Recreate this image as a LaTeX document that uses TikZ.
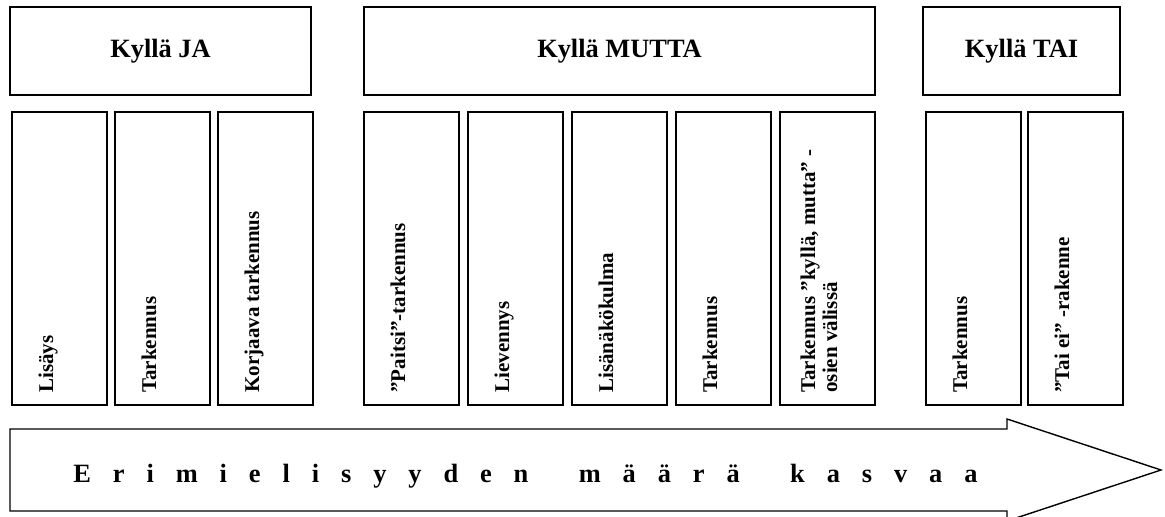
\documentclass[tikz,border=0pt]{standalone}
\usepackage{fontspec}
\setmainfont{Liberation Serif}
\newfontfamily\spacedfont{Liberation Serif}[LetterSpace=83]
\usetikzlibrary{positioning}

\newcommand{\wgap}{\hspace{0.83em}}

\begin{document}
\begin{tikzpicture}[x=0.5pt, y=-0.5pt,
      group/.style={draw, line width=0.9pt, minimum height=44pt, inner sep=0pt,
                    font=\bfseries\fontsize{13.2}{15}\selectfont},
      col/.style={draw, line width=0.7pt, minimum width=47.5pt, minimum height=146.5pt,
                  inner sep=0pt, outer sep=0pt},
      coltext/.style={rotate=90, anchor=base west, inner sep=0pt, align=left,
                      font=\bfseries\fontsize{10.5}{11}\selectfont},
      trend/.style={draw, line width=0.7pt},
  ]
    \useasboundingbox (0,0) rectangle (1165,517);

    % group headings
    \node[group, minimum width=150.5pt] (ja)    at (160.5,51)  {Kyllä JA};
    \node[group, minimum width=255.5pt] (mutta) at (619.5,51)  {Kyllä MUTTA};
    \node[group, minimum width=98.5pt]  (tai)   at (1021.5,51) {Kyllä TAI};

    % columns under Kyllä JA
    \node[col] (lisays) at (59.5,258.5) {};
    \node[col, right=4pt of lisays] (tark1) {};
    \node[col, right=4pt of tark1]  (korj)  {};

    % columns under Kyllä MUTTA
    \node[col] (paitsi) at (411.5,258.5) {};
    \node[col, right=4.5pt of paitsi] (liev)  {};
    \node[col, right=4.5pt of liev]   (lisn)  {};
    \node[col, right=4.5pt of lisn]   (tark2) {};
    \node[col, right=4.5pt of tark2]  (tark3) {};

    % columns under Kyllä TAI
    \node[col] (tark4) at (973.5,258.5) {};
    \node[col, right=3.5pt of tark4] (taiei) {};

    % rotated labels
    \node[coltext] (t-lisays) at ([shift={(41,-12)}]lisays.south west) {Lisäys};
    \node[coltext] (t-tark1)  at ([shift={(41,-12)}]tark1.south west)  {Tarkennus};
    \node[coltext] (t-korj)   at ([shift={(41,-12)}]korj.south west)   {Korjaava tarkennus};
    \node[coltext] (t-paitsi) at ([shift={(41,-12)}]paitsi.south west) {”Paitsi”-tarkennus};
    \node[coltext] (t-liev)   at ([shift={(41,-12)}]liev.south west)   {Lievennys};
    \node[coltext] (t-lisn)   at ([shift={(41,-12)}]lisn.south west)   {Lisänäkökulma};
    \node[coltext] (t-tark2)  at ([shift={(41,-12)}]tark2.south west)  {Tarkennus};
    % two lines: base is the last line
    \node[coltext] (t-tark3)  at ([shift={(57,-12)}]tark3.south west)  {Tarkennus ”kyllä, mutta” -\\osien välissä};
    \node[coltext] (t-tark4)  at ([shift={(41,-12)}]tark4.south west)  {Tarkennus};
    \node[coltext] (t-taiei)  at ([shift={(41,-12)}]taiei.south west)  {”Tai ei” -rakenne};

    % big arrow
    \draw[trend] (10,429) -- (1007,429) -- (1007,419) -- (1161,470)
                 -- (1007,521) -- (1007,511) -- (10,511) -- cycle;
    \node[anchor=base west, inner sep=0pt,
          font=\spacedfont\bfseries\fontsize{13.2}{15}\selectfont] (trendtext)
          at (73,482) {Erimielisyyden\wgap{} määrä\wgap{} kasvaa};

\end{tikzpicture}
\end{document}
